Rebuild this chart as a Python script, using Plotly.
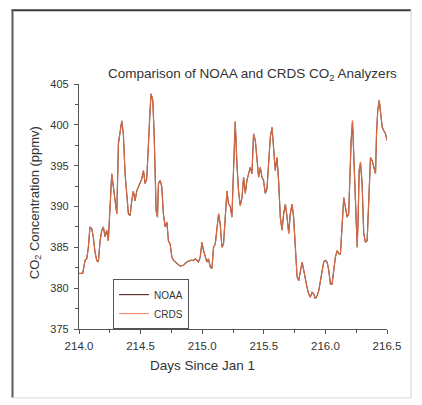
import plotly.graph_objects as go

days = [214.000, 214.030, 214.049, 214.063, 214.076, 214.089, 214.103, 214.116, 214.130, 214.144,
        214.157, 214.171, 214.185, 214.198, 214.211, 214.225, 214.238, 214.266, 214.293, 214.307,
        214.320, 214.333, 214.347, 214.360, 214.374, 214.401, 214.415, 214.428, 214.441, 214.455,
        214.469, 214.482, 214.496, 214.510, 214.523, 214.537, 214.550, 214.563, 214.577, 214.585,
        214.599, 214.610, 214.618, 214.626, 214.637, 214.645, 214.659, 214.672, 214.685, 214.699,
        214.713, 214.726, 214.740, 214.754, 214.767, 214.780, 214.794, 214.807, 214.821, 214.848,
        214.876, 214.902, 214.929, 214.943, 214.957, 214.970, 214.984, 214.998, 215.011, 215.024,
        215.038, 215.051, 215.065, 215.079, 215.092, 215.106, 215.120, 215.133, 215.146, 215.160,
        215.173, 215.187, 215.201, 215.214, 215.228, 215.241, 215.254, 215.268, 215.282, 215.295,
        215.309, 215.323, 215.336, 215.350, 215.363, 215.376, 215.390, 215.404, 215.417, 215.431,
        215.445, 215.458, 215.472, 215.485, 215.498, 215.512, 215.526, 215.539, 215.553, 215.567,
        215.580, 215.593, 215.607, 215.620, 215.634, 215.648, 215.661, 215.675, 215.689, 215.702,
        215.715, 215.729, 215.742, 215.756, 215.770, 215.783, 215.797, 215.811, 215.824, 215.837,
        215.851, 215.864, 215.878, 215.892, 215.905, 215.919, 215.933, 215.946, 215.959, 215.973,
        215.986, 216.000, 216.014, 216.027, 216.041, 216.054, 216.067, 216.081, 216.095, 216.108,
        216.122, 216.136, 216.149, 216.163, 216.176, 216.189, 216.198, 216.209, 216.220, 216.230,
        216.238, 216.246, 216.258, 216.266, 216.274, 216.285, 216.298, 216.311, 216.325, 216.339,
        216.352, 216.366, 216.380, 216.393, 216.407, 216.415, 216.425, 216.437, 216.447, 216.461,
        216.474, 216.488, 216.500]

co2_crds = [381.8, 381.8, 383.4, 383.6, 385.0, 387.5, 387.3, 386.3, 384.4, 383.4,
            383.2, 385.8, 387.1, 387.5, 386.3, 387.1, 385.8, 394.0, 390.7, 389.1,
            397.7, 398.9, 400.5, 398.9, 394.0, 389.1, 388.9, 390.7, 391.9, 390.7,
            391.9, 392.4, 393.0, 393.4, 394.4, 392.8, 393.4, 398.5, 401.8, 403.8,
            403.0, 398.9, 394.0, 389.5, 388.7, 392.8, 393.2, 392.4, 389.1, 387.5,
            388.1, 385.8, 385.4, 383.8, 383.4, 383.2, 383.0, 382.8, 382.7, 382.8,
            383.2, 383.4, 383.4, 383.6, 383.4, 383.2, 383.8, 385.6, 384.6, 383.8,
            383.2, 383.6, 382.6, 382.4, 385.0, 385.4, 387.1, 389.1, 387.9, 385.0,
            385.4, 388.3, 391.9, 390.3, 390.0, 388.7, 394.0, 400.4, 395.2, 391.9,
            390.1, 391.1, 393.6, 391.6, 393.2, 394.0, 394.8, 394.0, 398.9, 398.1,
            396.0, 393.6, 394.8, 393.6, 393.2, 391.6, 392.2, 394.8, 398.5, 399.7,
            396.9, 394.4, 396.0, 393.2, 388.7, 387.1, 389.1, 390.3, 388.7, 386.7,
            389.1, 390.3, 388.7, 384.6, 381.4, 380.9, 382.2, 383.2, 382.2, 380.9,
            380.1, 379.3, 378.9, 379.5, 379.3, 378.7, 379.1, 379.7, 380.9, 382.2,
            383.2, 383.4, 383.2, 382.2, 380.5, 380.5, 382.2, 383.8, 384.6, 384.2,
            384.2, 387.9, 391.1, 389.9, 388.7, 389.1, 393.6, 398.1, 400.5, 396.9,
            393.6, 389.5, 385.0, 388.7, 394.4, 395.4, 392.8, 386.7, 385.6, 385.8,
            391.9, 396.0, 395.6, 394.8, 394.0, 398.9, 401.8, 403.0, 401.4, 399.7,
            399.3, 398.9, 398.1]

co2_noaa = [381.8, 381.8, 383.4, 383.6, 385.0, 387.5, 387.3, 386.3, 384.4, 383.4,
            383.2, 385.8, 387.1, 387.5, 386.3, 387.1, 385.8, 394.0, 390.7, 389.1,
            397.7, 398.9, 400.5, 398.9, 394.0, 389.1, 388.9, 390.7, 391.9, 390.7,
            391.9, 392.4, 393.0, 393.4, 394.4, 392.8, 393.4, 398.5, 401.8, 403.8,
            403.0, 398.9, 394.0, 389.5, 388.7, 392.8, 393.2, 392.4, 389.1, 387.5,
            388.1, 385.8, 385.4, 383.8, 383.4, 383.2, 383.0, 382.8, 382.7, 382.8,
            383.2, 383.4, 383.4, 383.6, 383.4, 383.2, 383.8, 385.6, 384.6, 383.8,
            383.2, 383.6, 382.6, 382.4, 385.0, 385.4, 387.1, 389.1, 387.9, 385.0,
            385.4, 388.3, 391.9, 390.3, 390.0, 388.7, 394.0, 400.4, 395.2, 391.9,
            390.1, 391.1, 393.6, 391.6, 393.2, 394.0, 394.8, 394.0, 398.9, 398.1,
            396.0, 393.6, 394.8, 393.6, 393.2, 391.6, 392.2, 394.8, 398.5, 399.7,
            396.9, 394.4, 396.0, 393.2, 388.7, 387.1, 389.1, 390.3, 388.7, 386.7,
            389.1, 390.3, 388.7, 384.6, 381.4, 380.9, 382.2, 383.2, 382.2, 380.9,
            380.1, 379.3, 378.9, 379.5, 379.3, 378.7, 379.1, 379.7, 380.9, 382.2,
            383.2, 383.4, 383.2, 382.2, 380.5, 380.5, 382.2, 383.8, 384.6, 384.2,
            384.2, 387.9, 391.1, 389.9, 388.7, 389.1, 393.6, 398.1, 400.5, 396.9,
            393.6, 389.5, 385.0, 388.7, 394.4, 395.4, 392.8, 386.7, 385.6, 385.8,
            391.9, 396.0, 395.6, 394.8, 394.0, 398.9, 401.8, 403.0, 401.4, 399.7,
            399.3, 398.9, 398.1]

x_ticks = [214.0, 214.5, 215.0, 215.5, 216.0, 216.5]
y_ticks = [375, 380, 385, 390, 395, 400, 405]

font = "Liberation Sans, Arial, sans-serif"
axis_col = "#555555"
text_col = "#333333"

fig = go.Figure()
fig.add_trace(go.Scatter(x=days, y=co2_noaa, name="NOAA", mode="lines",
                         line=dict(color="#5a3a30", width=1.2)))
fig.add_trace(go.Scatter(x=days, y=co2_crds, name="CRDS", mode="lines",
                         line=dict(color="#ef7246", width=0.9)))

W, H = 422, 405
L, R, T, B = 79, 387, 83.5, 329

def px(x):
    return (x - L) / (R - L)

def py(y):
    return (B - y) / (B - T)

shapes = [
    dict(type="line", xref="paper", yref="paper", x0=px(11.5), x1=px(411), y0=py(9.5), y1=py(9.5),
         line=dict(color="#3a3a3a", width=2)),
    dict(type="line", xref="paper", yref="paper", x0=px(12.5), x1=px(12.5), y0=py(9), y1=py(398),
         line=dict(color="#5a5a5a", width=2)),
    dict(type="line", xref="paper", yref="paper", x0=px(411), x1=px(411), y0=py(9), y1=py(398),
         line=dict(color="#cfcfcf", width=1)),
    dict(type="line", xref="paper", yref="paper", x0=px(12), x1=px(411), y0=py(398), y1=py(398),
         line=dict(color="#d8d8d8", width=1)),
]

fig.update_layout(
    width=W, height=H,
    margin=dict(l=L, r=W - R, t=T, b=H - B, pad=0, autoexpand=False),
    paper_bgcolor="white", plot_bgcolor="white",
    font=dict(family=font, size=11, color=text_col),
    showlegend=True,
    legend=dict(x=px(113), y=py(279), xanchor="left", yanchor="top",
                bordercolor="#555555", borderwidth=1, bgcolor="white",
                font=dict(size=10, color=text_col),
                itemwidth=30, tracegroupgap=0),
    shapes=shapes,
    annotations=[
        dict(text="Comparison of NOAA and CRDS CO<sub>2</sub> Analyzers", xref="paper", yref="paper",
             x=px(252), y=py(74), xanchor="center", yanchor="middle", showarrow=False,
             font=dict(size=13.5, color=text_col, family=font)),
        dict(text="Days Since Jan 1", xref="paper", yref="paper",
             x=px(202), y=py(366), xanchor="center", yanchor="middle", showarrow=False,
             font=dict(size=13.5, color=text_col, family=font)),
        dict(text="CO<sub>2</sub> Concentration (ppmv)", xref="paper", yref="paper",
             x=px(35), y=py(203), xanchor="center", yanchor="middle", showarrow=False,
             textangle=-90, font=dict(size=13, color=text_col, family=font)),
    ],
    xaxis=dict(range=[214.0, 216.5], tickvals=x_ticks, ticktext=[f"{v:.1f}" for v in x_ticks],
               showgrid=False, zeroline=False, showline=True, linecolor=axis_col, linewidth=1.2,
               ticks="outside", ticklen=4, tickcolor=axis_col, tickwidth=1.2,
               minor=dict(ticks="outside", dtick=0.25, ticklen=2.5, tickcolor=axis_col, tickwidth=1, showgrid=False),
               tickfont=dict(size=11.5, color=text_col), ticklabelstandoff=2),
    yaxis=dict(range=[375, 405], tickvals=y_ticks, ticktext=[str(v) for v in y_ticks],
               showgrid=False, zeroline=False, showline=True, linecolor=axis_col, linewidth=1.2,
               ticks="outside", ticklen=4, tickcolor=axis_col, tickwidth=1.2,
               minor=dict(ticks="outside", dtick=2.5, ticklen=2.5, tickcolor=axis_col, tickwidth=1, showgrid=False),
               tickfont=dict(size=11, color=text_col), ticklabelstandoff=3),
)

fig.write_html("out.html", config={"displayModeBar": False},
               post_script="document.body.style.margin='0';")
